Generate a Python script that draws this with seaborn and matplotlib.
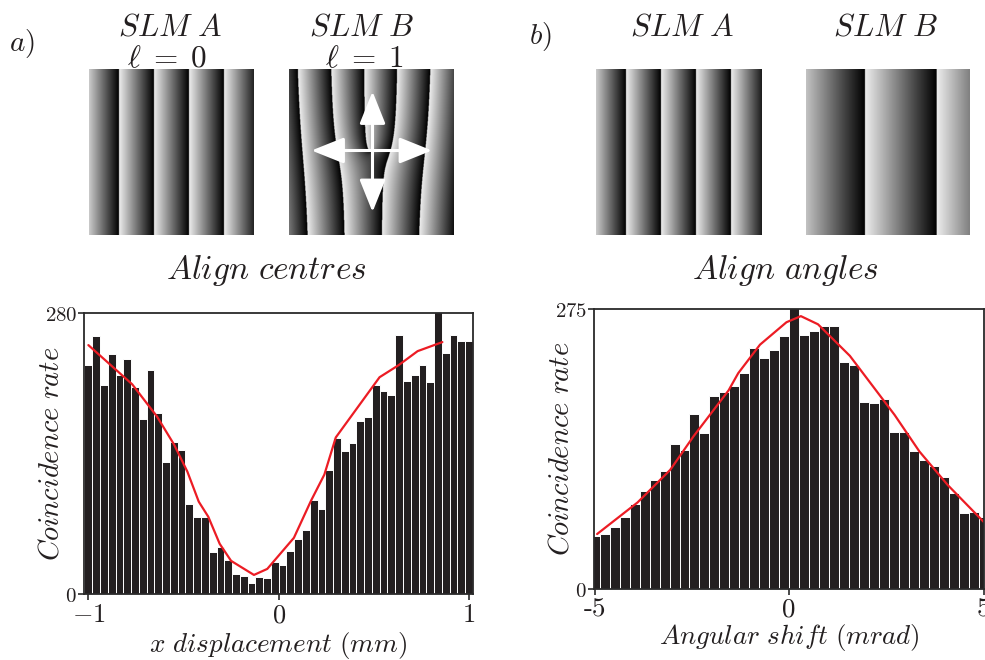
import numpy as np
import pandas as pd
import matplotlib
matplotlib.use("Agg")
import matplotlib.pyplot as plt
import seaborn as sns
from matplotlib.patches import FancyArrowPatch

# ---------------------------------------------------------------- data
# a) coincidences versus transverse displacement of SLM B
disp_counts = [228, 257, 208, 239, 218, 234, 206, 174, 223, 180,
               132, 151, 143, 90, 77, 77, 42, 47, 34, 20,
               18, 11, 17, 16, 32, 29, 43, 55, 64, 94,
               85, 124, 155, 142, 150, 172, 176, 208, 202, 198,
               258, 212, 218, 228, 211, 285, 240, 258, 252, 252]
disp_range = (-1.0, 1.0)
disp_fit_x = [-1.0, -0.77, -0.64, -0.55, -0.48, -0.42, -0.37, -0.31, -0.25,
              -0.13, -0.06, 0.08, 0.17, 0.24, 0.30, 0.53, 0.63, 0.73, 0.86]
disp_fit_y = [248, 209, 177, 149, 122, 92, 77, 50, 33,
              19, 25, 56, 93, 119, 156, 216, 228, 242, 251]
disp_xticks = [-1, 0, 1]
disp_xticklabels = [r"$-1$", r"$0$", r"$1$"]
disp_yticks = [0, 280]

# b) coincidences versus angular shift
angle_counts = [52, 54, 61, 71, 83, 96, 107, 116, 142, 137,
                172, 153, 190, 193, 199, 212, 237, 227, 235, 248,
                280, 249, 253, 258, 258, 223, 220, 184, 183, 187,
                154, 154, 136, 127, 121, 110, 94, 75, 76, 71]
angle_range = (-5.0, 5.0)
angle_fit_x = [-4.94, -3.9, -3.06, -2.46, -1.56, -1.31, -0.75, -0.07, 0.30,
               0.74, 1.56, 2.71, 3.35, 4.08, 5.0]
angle_fit_y = [54, 85, 117, 150, 195, 212, 240, 262, 268,
               260, 229, 171, 135, 102, 66]
angle_xticks = [-5, 0, 5]
angle_xticklabels = ["-5", "0", "5"]
angle_yticks = [0, 275]

BAR = "#231f20"
RED = "#ec1c24"
SPINE = "#2a2a2a"
INK = "#231f20"

# ---------------------------------------------------------------- style
sns.set_style("ticks")
plt.rcParams["font.family"] = ["DejaVu Sans"]
plt.rcParams["mathtext.fontset"] = "cm"

W, H = 985, 660
fig = plt.figure(figsize=(W / 100, H / 100), dpi=100)


def px_axes(x0, y0, x1, y1):
    """Axes placed by pixel box (left, top, right, bottom)."""
    return fig.add_axes([x0 / W, 1 - y1 / H, (x1 - x0) / W, (y1 - y0) / H])


def ftext(x, y, s, size, ha="center", va="baseline", **kw):
    fig.text(x / W, 1 - y / H, s, fontsize=size, ha=ha, va=va, color=INK, **kw)


# ---------------------------------------------------------------- holograms
RAMP_TOP = 0.93


def grating(width, height, period, first_edge, charge=0, offset=0.0):
    nx, ny = int(width * 3), int(height * 3)
    x = (np.arange(nx) + 0.5) / nx * width
    y = (np.arange(ny) + 0.5) / ny * height
    X, Y = np.meshgrid(x, y)
    if charge == 0:
        phase = (X - first_edge) / period
    else:
        xc, yc = X - width / 2, height / 2 - Y
        phase = xc / period - charge * np.arctan2(yc, xc) / (2 * np.pi) + offset
    return RAMP_TOP * (1 - np.mod(phase, 1.0))


def show_grating(box, img):
    ax = px_axes(*box)
    w, h = box[2] - box[0], box[3] - box[1]
    ax.imshow(img, cmap="gray", vmin=0, vmax=1, extent=(0, w, h, 0),
              aspect="auto", interpolation="bilinear")
    ax.set_xlim(0, w)
    ax.set_ylim(h, 0)
    ax.axis("off")
    return ax


show_grating((89, 69, 254, 235), grating(165, 166, 35, 30))
axB = show_grating((289, 69, 454, 235), grating(165, 166, 35, 0, charge=1, offset=0.47))
show_grating((596, 69, 762, 235), grating(166, 166, 35, 30))
show_grating((806, 69, 970, 235), grating(164, 166, 71.7, 59))

arrow_style = "<|-|>,head_length=2.0,head_width=0.8"
for a, b in [((83.5, 22.5), (83.5, 143)), ((22.5, 81.5), (143, 81.5))]:
    axB.add_patch(FancyArrowPatch(a, b, arrowstyle=arrow_style, mutation_scale=10,
                                  color="white", lw=2.2, shrinkA=0, shrinkB=0))

# ---------------------------------------------------------------- titles
TS = 22.5
ftext(9, 51, r"$a)$", 21, ha="left")
ftext(170, 35, r"$SLM\ A$", TS)
ftext(167, 67, r"$\ell\;=\;0$", TS)
ftext(362, 35, r"$SLM\ B$", TS)
ftext(364, 67, r"$\ell\;=\;1$", TS)
ftext(266, 279, r"$Align\ centres$", 24)

ftext(529, 44, r"$b)$", 21, ha="left")
ftext(682, 35, r"$SLM\ A$", TS)
ftext(886, 35, r"$SLM\ B$", TS)
ftext(785, 279, r"$Align\ angles$", 24)


# ---------------------------------------------------------------- histograms
def histogram(box, counts, xr, fit_x, fit_y, xticks, xlabels, yticks, xlim,
              xlabel, tick_family=None):
    ax = px_axes(*box)
    centres = np.linspace(xr[0], xr[1], len(counts))
    df = pd.DataFrame({"pos": centres, "rate": counts})
    sns.barplot(data=df, x="pos", y="rate", native_scale=True, width=1.0,
                color=BAR, saturation=1, edgecolor="white", linewidth=0.7,
                errorbar=None, ax=ax)
    sns.lineplot(x=fit_x, y=fit_y, color=RED, lw=1.6, estimator=None,
                 sort=False, ax=ax)
    ax.set_xlim(*xlim)
    ax.set_ylim(yticks[0], yticks[1])
    ax.set_xticks(xticks)
    if tick_family:
        ax.set_xticklabels(xlabels, fontfamily=tick_family, fontsize=19.5)
    else:
        ax.set_xticklabels(xlabels, fontsize=19)
    ax.set_yticks(yticks)
    ax.set_yticklabels([rf"${v}$" for v in yticks], fontsize=15)
    ax.tick_params(axis="x", direction="out", length=4, width=1.2, color=SPINE,
                   pad=2, labelcolor=INK)
    ax.tick_params(axis="y", direction="out", length=4, width=1.2, color=SPINE,
                   pad=1, labelcolor=INK)
    for s in ax.spines.values():
        s.set_visible(True)
        s.set_color(SPINE)
        s.set_linewidth(1.3)
    ax.set_xlabel(xlabel, fontsize=19.5, labelpad=1, color=INK)
    ax.set_ylabel(r"$Coincidence\ rate$", fontsize=20.5, labelpad=-14, color=INK)
    return ax


histogram((84, 313, 473, 594), disp_counts, disp_range, disp_fit_x, disp_fit_y,
          disp_xticks, disp_xticklabels, disp_yticks, (-1.023, 1.021),
          r"$x\ displacement\ (mm)$")
histogram((594, 309, 984, 589), angle_counts, angle_range, angle_fit_x, angle_fit_y,
          angle_xticks, angle_xticklabels, angle_yticks, (-5.02, 5.01),
          r"$Angular\ shift\ (mrad)$", tick_family="cmr10")

fig.savefig("out.png", dpi=100)
